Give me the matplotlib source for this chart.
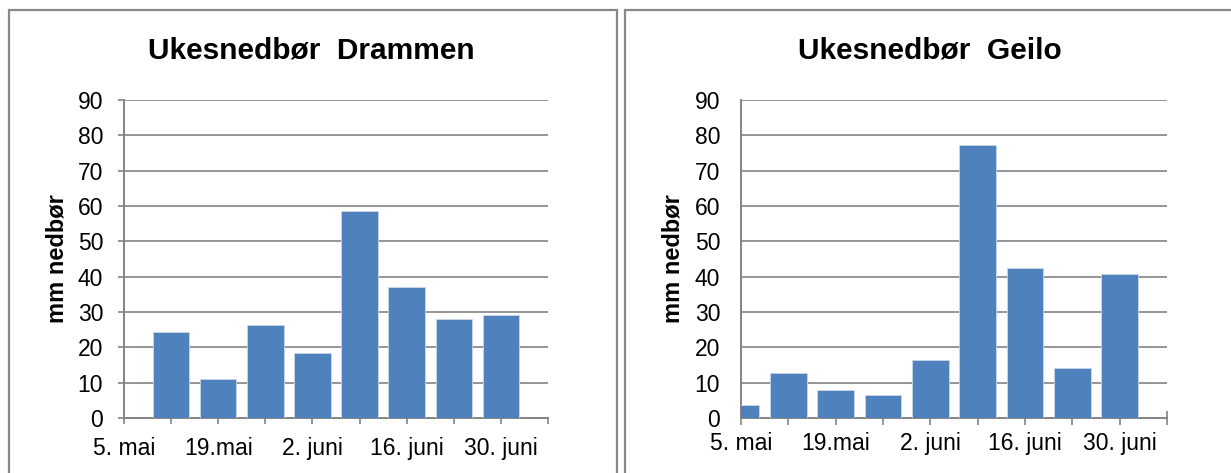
import datetime as dt
import matplotlib
matplotlib.use("Agg")
import matplotlib.pyplot as plt
from matplotlib.patches import Rectangle

plt.rcParams["font.family"] = ["Liberation Sans", "DejaVu Sans"]

# weekly precipitation, mm (week ending date)
uker_drammen = ["2013-05-12", "2013-05-19", "2013-05-26", "2013-06-02",
                "2013-06-09", "2013-06-16", "2013-06-23", "2013-06-30"]
nedbor_drammen = [24.4, 10.9, 26.3, 18.5, 58.7, 37.0, 28.0, 29.1]

uker_geilo = ["2013-05-05", "2013-05-12", "2013-05-19", "2013-05-26", "2013-06-02",
              "2013-06-09", "2013-06-16", "2013-06-23", "2013-06-30"]
nedbor_geilo = [3.6, 12.7, 7.9, 6.5, 16.4, 77.4, 42.4, 14.1, 40.7]

tick_labels = ["5. mai", "19.mai", "2. juni", "16. juni", "30. juni"]
y_ticks = list(range(0, 100, 10))

W, H = 1231, 473
BAR = "#4f81bd"
GRAY = "#848484"


def to_date(s):
    return dt.date.fromisoformat(s)


start = dt.date(2013, 5, 5)
end = dt.date(2013, 7, 7)
major = [start + dt.timedelta(days=14 * i) for i in range(5)]
minor = [start + dt.timedelta(days=7 + 14 * i) for i in range(5)]

fig = plt.figure(figsize=(W / 100, H / 100), dpi=100)

# panel frames
for x0 in (9, 625):
    fig.add_artist(Rectangle((x0 / W, -0.05), 608 / W, 1.05 - 10 / H, transform=fig.transFigure,
                             fill=False, edgecolor="#888888", linewidth=1.6))


def draw(left_px, right_px, uker, verdier, tittel, center_px, tick_dir):
    ax = fig.add_axes([left_px / W, 1 - 418 / H, (right_px - left_px) / W, 318 / H])
    datoer = [to_date(u) for u in uker]
    ax.bar(datoer, verdier, width=5.4, color=BAR, edgecolor="#c9d6ea", linewidth=0.6, zorder=3)
    ax.set_xlim(start, end)
    ax.set_ylim(0, 90)
    ax.set_yticks(y_ticks)
    ax.set_xticks(major)
    ax.set_xticks(minor, minor=True)
    ax.set_xticklabels(tick_labels)
    ax.grid(axis="y", color=GRAY, linewidth=1.2, zorder=0)
    ax.set_axisbelow(True)
    for s in ("top", "right"):
        ax.spines[s].set_visible(False)
    for s in ("left", "bottom"):
        ax.spines[s].set_color(GRAY)
        ax.spines[s].set_linewidth(1.4)
    if tick_dir == "out":
        ax.tick_params(axis="x", which="both", direction="out", length=4.5, width=1.2,
                       color=GRAY, pad=9.5)
        ax.tick_params(axis="y", direction="out", length=4.5, width=1.2, color=GRAY, pad=10.5)
    else:
        ax.tick_params(axis="x", which="both", direction="inout", length=9.5, width=1.2,
                       color=GRAY, pad=5.5)
        ax.tick_params(axis="y", length=0, pad=15)
    ax.tick_params(labelsize=16.5, labelcolor="black")
    ax.set_ylabel("mm nedbør", fontsize=17, fontweight="bold")
    ax.yaxis.set_label_coords(-56 / (right_px - left_px), 0.5)
    fig.text(center_px / W, 1 - 58 / H, tittel, fontsize=21.5, fontweight="bold",
             ha="center", va="baseline")


draw(124, 548, uker_drammen, nedbor_drammen, "Ukesnedbør  Drammen", 311, "out")
draw(741, 1167, uker_geilo, nedbor_geilo, "Ukesnedbør  Geilo", 930, "inout")

fig.savefig("out.png", dpi=100)
